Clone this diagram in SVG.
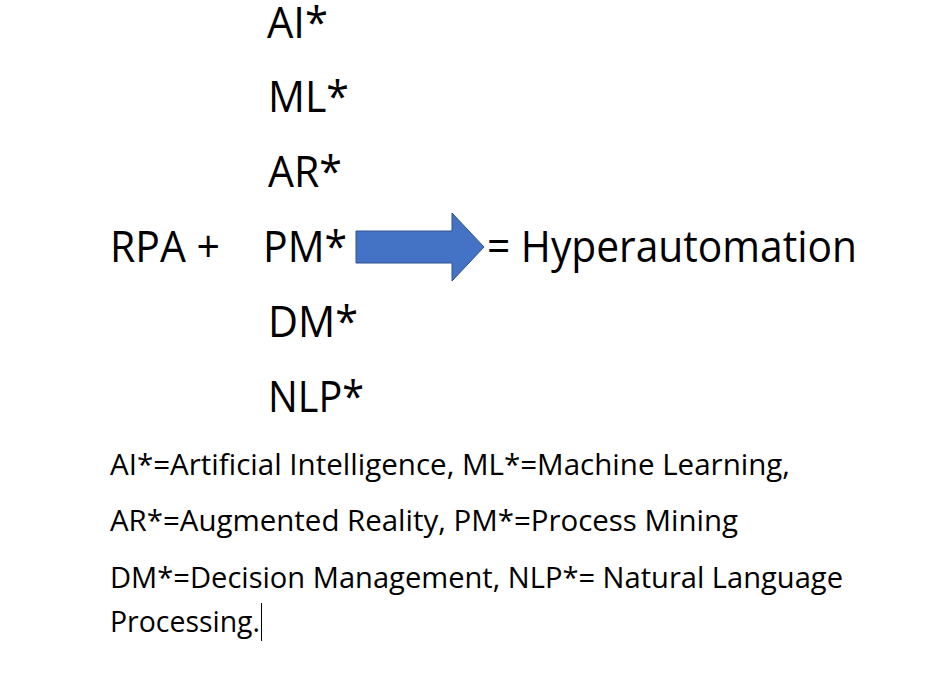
<svg xmlns="http://www.w3.org/2000/svg" width="942" height="674" viewBox="0 0 942 674">
<style>
.big{font-family:"Open Sans","Noto Sans",sans-serif;font-size:43px;fill:#000}
.small{font-family:"Open Sans","Noto Sans",sans-serif;font-size:29px;fill:#000}
</style>
<rect width="942" height="674" fill="#fff"/>
<g id="terms">
<text class="big" x="267" y="38" textLength="61" lengthAdjust="spacingAndGlyphs">AI*</text>
<text class="big" x="268" y="112" textLength="81" lengthAdjust="spacingAndGlyphs">ML*</text>
<text class="big" x="268" y="187" textLength="74" lengthAdjust="spacingAndGlyphs">AR*</text>
<text class="big" x="263" y="262" textLength="84" lengthAdjust="spacingAndGlyphs">PM*</text>
<text class="big" x="268" y="337" textLength="90" lengthAdjust="spacingAndGlyphs">DM*</text>
<text class="big" x="268" y="412" textLength="96" lengthAdjust="spacingAndGlyphs">NLP*</text>
</g>
<g id="rpa">
<text class="big" x="110" y="262" textLength="110" lengthAdjust="spacingAndGlyphs">RPA +</text>
</g>
<g id="result">
<text class="big" x="487" y="262" textLength="370" lengthAdjust="spacingAndGlyphs">= Hyperautomation</text>
</g>
<g id="connectors">
<polygon points="356,231 452,231 452,213 484,247 452,281 452,263 356,263" fill="#4472C4" stroke="#2F528F" stroke-width="1"/>
</g>
<g id="legend">
<text class="small" x="110" y="475" textLength="680" lengthAdjust="spacingAndGlyphs">AI*=Artificial Intelligence, ML*=Machine Learning,</text>
<text class="small" x="110" y="531" textLength="628" lengthAdjust="spacingAndGlyphs">AR*=Augmented Reality, PM*=Process Mining</text>
<text class="small" x="110" y="588" textLength="733" lengthAdjust="spacingAndGlyphs">DM*=Decision Management, NLP*= Natural Language</text>
<text class="small" x="110" y="632" textLength="150" lengthAdjust="spacingAndGlyphs">Processing.</text>
<line x1="261.5" y1="603" x2="261.5" y2="641" stroke="#000" stroke-width="1"/>
</g>
</svg>
